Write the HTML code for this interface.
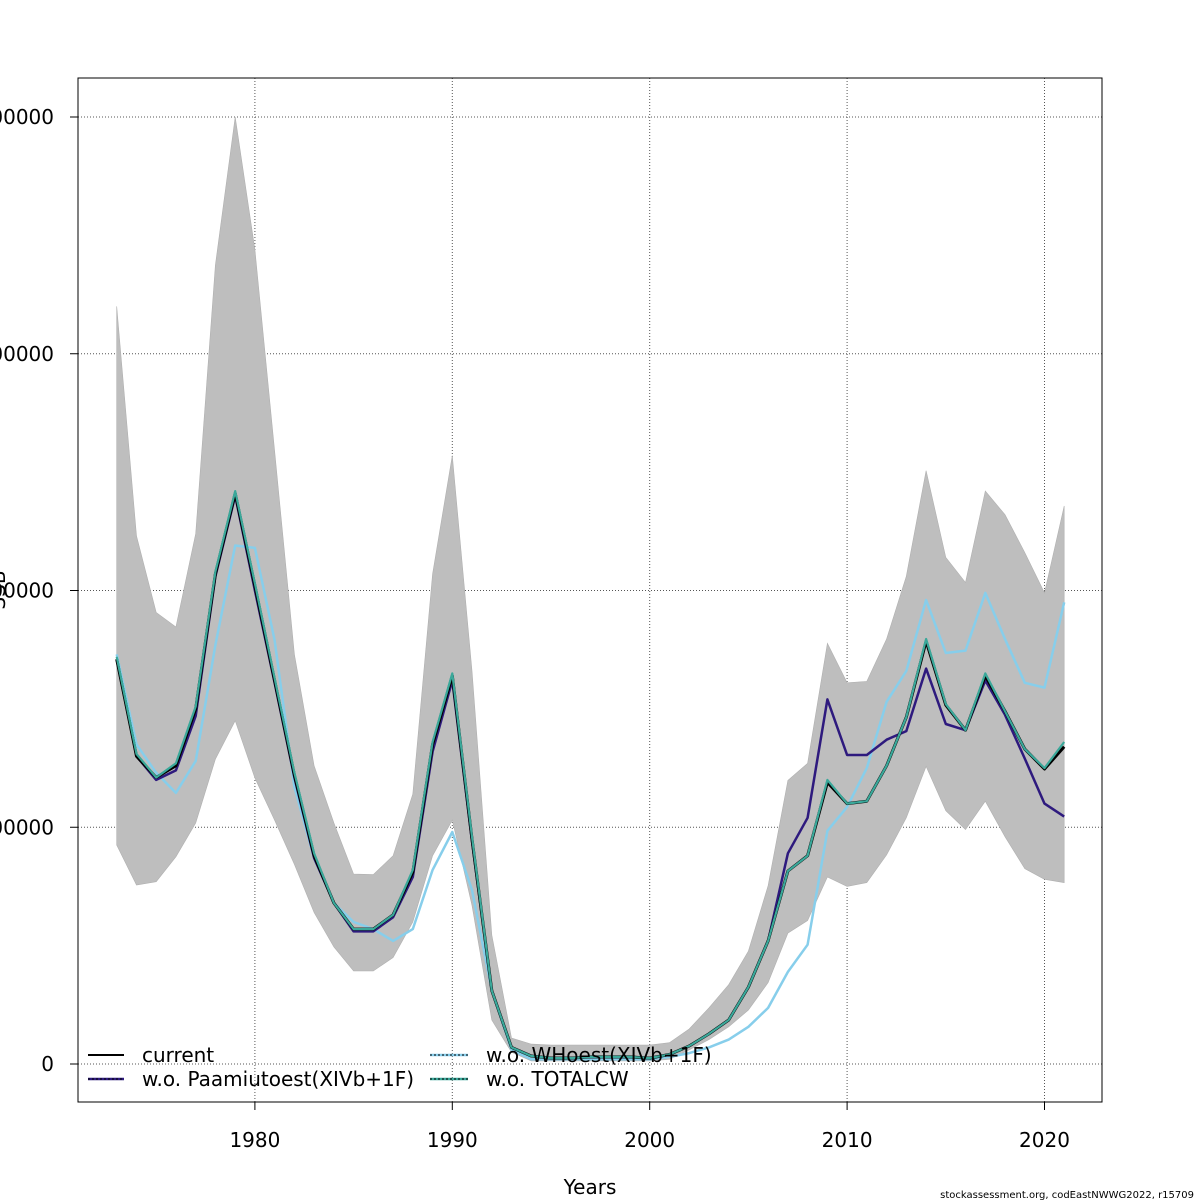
<!DOCTYPE html>
<html><head><meta charset="utf-8">
<style>
body{margin:0;background:#fff;}
svg{display:block;font-family:"DejaVu Sans","Liberation Sans",sans-serif;}
</style></head>
<body>
<svg id="chart" width="1200" height="1200" viewBox="0 0 1200 1200" xmlns="http://www.w3.org/2000/svg">
<rect x="0" y="0" width="1200" height="1200" fill="#fff"/>
<g id="grid"></g>
<g id="band"></g>
<g id="lines"></g>
<rect x="78" y="78" width="1024" height="1024" fill="none" stroke="#000" stroke-width="1"/>
<g id="axes"></g>
<text x="590" y="1194" font-size="20" text-anchor="middle">Years</text>
<text x="0" y="590" font-size="20" text-anchor="middle" transform="rotate(-90 0 590)" dy="5">SSB</text>
<text x="1194" y="1198" font-size="10" text-anchor="end">stockassessment.org, codEastNWWG2022, r15709</text>
<g id="legend">
 <line x1="88" y1="1055" x2="124" y2="1055" stroke="#000" stroke-width="2"/>
 <text x="142" y="1062" font-size="20">current</text>
 <line x1="88" y1="1079" x2="124" y2="1079" stroke="#2e1a7e" stroke-width="2.5"/>
 <line x1="88" y1="1079" x2="124" y2="1079" stroke="#000" stroke-width="1" stroke-dasharray="2,2"/>
 <text x="142" y="1086" font-size="20">w.o. Paamiutoest(XIVb+1F)</text>
 <line x1="430" y1="1055" x2="468" y2="1055" stroke="#87ceeb" stroke-width="2.5"/>
 <line x1="430" y1="1055" x2="468" y2="1055" stroke="#000" stroke-width="1" stroke-dasharray="2,2"/>
 <text x="486" y="1062" font-size="20">w.o. WHoest(XIVb+1F)</text>
 <line x1="430" y1="1079" x2="468" y2="1079" stroke="#3aa89a" stroke-width="2.5"/>
 <line x1="430" y1="1079" x2="468" y2="1079" stroke="#000" stroke-width="1" stroke-dasharray="2,2"/>
 <text x="486" y="1086" font-size="20">w.o. TOTALCW</text>
</g>
</svg>
<script>
// values in thousands of tonnes, years 1973-2021
const startYear = 1973;
const current = [171,130,121,126,150,207,241,202,162,122,88,68,57,57,63,81,135,164,95,31,7,3.4,2.5,2.5,3,3,3,2.5,4,7.6,12.7,18.6,32.5,52,81.5,88,119,110,111,126,146.5,178.6,151.6,141,164,149,133,124.6,134];
const totalcw = [172,131,121,127,151,208,242,203,163,123,89,68,57,57,63,82,136,165,96,31,7,3.4,2.5,2.5,3,3,3,2.5,4,7.6,12.7,18.6,32.5,52,81.5,88,120,110,111,126,146.5,179.5,152,141,165,149,133,125,136];
const paamiut = [171,130,120,124,147,206,240,200,161,121,87,68,56,56,62,79,132,162,94,31,7,3.4,2.5,2.5,3,3,3,2.5,4,7.6,12.7,18.6,32.5,52,89,104,154,130.5,130.5,137,140.6,167,143.6,141,162,147.5,129,110,104.5];
const whoest = [173,135,123,114.5,128,177,219,218,179,117,87,68,60,57,52,57,82,98,73.5,31,6,2,2,2,2,2,2,2,3,4.6,7,10.3,15.7,23.7,38.9,50.4,98.5,108.6,125,153,166,196,173.6,174.6,199,179.5,161,159,195];
const upper = [320,223,190.7,184.6,224,337.5,400,344,259,173,126,101.8,80.2,80,88,114,207,257,166,54.5,11,8.4,8,8,8,8,8,8,9,14.8,23.7,33.5,47.7,75.3,119.8,127,177.7,161,161.6,179.5,206,250.6,214,203.4,242,232,216,199,235.7];
const lower = [92.5,75.6,77,87.5,101.8,128.8,145,120.8,103,84.3,64,49.4,39.3,39.3,45,60,88,103,67,18.6,5,1.3,1.3,1.3,1.3,1.3,1.3,1.3,2,6,10.3,15.7,22.8,34.4,55.3,60.6,79,75,76.6,88.3,104,125.7,107,99,111,96,82.5,78,76.6];
const xTicks = [1980,1990,2000,2010,2020];
const yTicks = [0,100000,200000,300000,400000];

const NS="http://www.w3.org/2000/svg";
function X(yr){return 254.9+(yr-1980)*19.74;}
function Y(k){return 1064-k*2.3675;}
function mk(tag,attrs,parent){const e=document.createElementNS(NS,tag);for(const k in attrs)e.setAttribute(k,attrs[k]);parent.appendChild(e);return e;}
const grid=document.getElementById('grid'),axes=document.getElementById('axes');
xTicks.forEach(t=>{
  const l=mk('line',{x1:X(t),x2:X(t),y1:78,y2:1102,stroke:'#555','stroke-width':1,'stroke-dasharray':'1,2'},grid);
  
  
  const tk=mk('line',{x1:X(t),x2:X(t),y1:1102,y2:1110,stroke:'#000'},axes);
  
  
  const tx=mk('text',{x:X(t),y:1147,'font-size':20,'text-anchor':'middle'},axes);
  tx.textContent=t;
  
  
});
yTicks.forEach(t=>{
  const y=Y(t/1000);
  const l=mk('line',{x1:78,x2:1102,y1:y,y2:y,stroke:'#555','stroke-width':1,'stroke-dasharray':'1,2'},grid);
  
  
  const tk=mk('line',{x1:70,x2:78,y1:y,y2:y,stroke:'#000'},axes);
  
  
  const tx=mk('text',{x:54,y:y+7,'font-size':20,'text-anchor':'end'},axes);
  tx.textContent=t;
  
  
});
function pts(arr){return arr.map((v,i)=>X(startYear+i).toFixed(1)+','+Y(v).toFixed(1));}
const bp=mk('polygon',{points:pts(upper).concat(pts(lower).reverse()).join(' '),fill:'#bebebe',stroke:'#b0b0b0','stroke-width':0.6},document.getElementById('band'));


const L=document.getElementById('lines');
function line(arr,color,w,name,dash){
  const p=mk('polyline',{points:pts(arr).join(' '),fill:'none',stroke:color,'stroke-width':w,'stroke-linejoin':'round'},L);
  if(dash)p.setAttribute('stroke-dasharray',dash);
  
  
}
line(whoest,'#87ceeb',2.5,'line-wo-whoest');
line(paamiut,'#2e1a7e',2.5,'line-wo-paamiut');
line(current,'#000',3,'line-current');
line(totalcw,'#3aa89a',2.2,'line-wo-totalcw');
</script>
</body></html>
